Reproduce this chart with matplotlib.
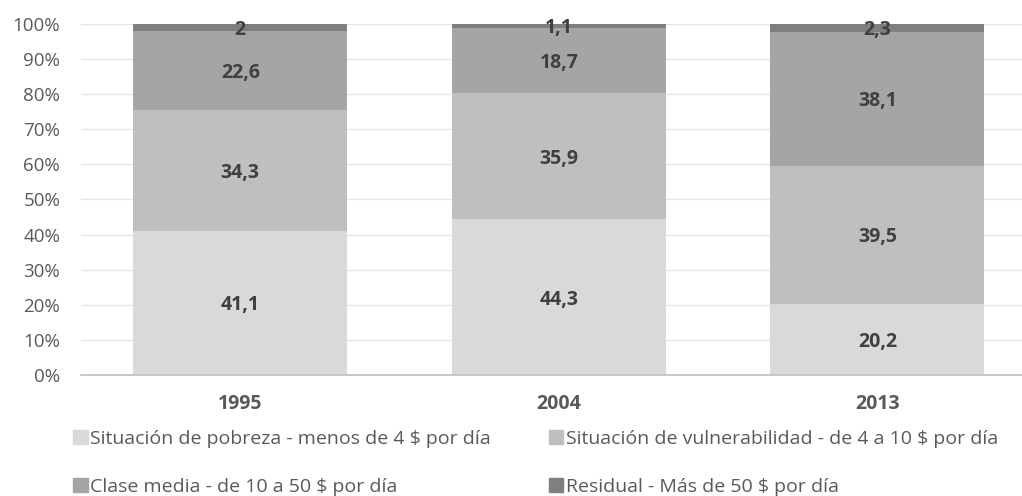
import numpy as np
import matplotlib.pyplot as plt
from matplotlib.patches import Patch

plt.rcParams['font.family'] = ['Open Sans', 'DejaVu Sans']

"data"
years = ['1995', '2004', '2013']
pobreza = [41.1, 44.3, 20.2]
vulnerab = [34.3, 35.9, 39.5]
media = [22.6, 18.7, 38.1]
residual = [2, 1.1, 2.3]
labels = ['Situación de pobreza - menos de 4 $ por día',
          'Situación de vulnerabilidad - de 4 a 10 $ por día',
          'Clase media - de 10 a 50 $ por día',
          'Residual - Más de 50 $ por día']
colors = ['#d9d9d9', '#bfbfbf', '#a5a5a5', '#7f7f7f']

series = np.array([pobreza, vulnerab, media, residual])
# 100% stacked: normalise each year
shares = series / series.sum(axis=0) * 100

fig = plt.figure(figsize=(10.22, 4.96), dpi=100)
# plot area runs a bit past the right edge (cropped like the original)
ax = fig.add_axes([0.0793, 0.244, 0.935, 0.708])

fs = 14
x = np.arange(len(years))
bottom = np.zeros(len(years))
for i in range(len(series)):
    ax.bar(x, shares[i], 0.672, bottom=bottom, color=colors[i], zorder=2)
    for j in range(len(years)):
        txt = ('%g' % series[i][j]).replace('.', ',')
        ax.text(x[j], bottom[j] + shares[i][j] / 2, txt, ha='center', va='center_baseline',
                fontsize=fs, fontweight='bold', color='#404040', zorder=3)
    bottom += shares[i]

ax.set_xlim(-0.5, 2.5)
ax.set_ylim(0, 100)
ax.set_yticks(np.arange(0, 101, 10))
ax.set_yticklabels(['%d%%' % v for v in range(0, 101, 10)])
ax.set_xticks(x)
ax.set_xticklabels(years, fontweight='bold')
ax.tick_params(axis='y', length=0, labelsize=13.5, labelcolor='#595959', pad=15)
ax.tick_params(axis='x', length=0, labelsize=fs, labelcolor='#595959', pad=14)
ax.grid(axis='y', color='#e6e6e6', linewidth=1, zorder=0)
for s in ['top', 'right', 'left']:
    ax.spines[s].set_visible(False)
ax.spines['bottom'].set_color('#bfbfbf')
ax.spines['bottom'].set_linewidth(1.2)

handles = [Patch(color=c) for c in colors]
order = [0, 2, 1, 3]
fig.legend([handles[k] for k in order], [labels[k] for k in order], ncol=2,
           loc='upper left', bbox_to_anchor=(0.0714, 0.133), frameon=False,
           fontsize=fs, labelcolor='#595959', handlelength=0.75, handleheight=0.75,
           handletextpad=0.15, labelspacing=1.52, columnspacing=2.95, borderaxespad=0,
           borderpad=0)

fig.savefig('out.png', dpi=100)
